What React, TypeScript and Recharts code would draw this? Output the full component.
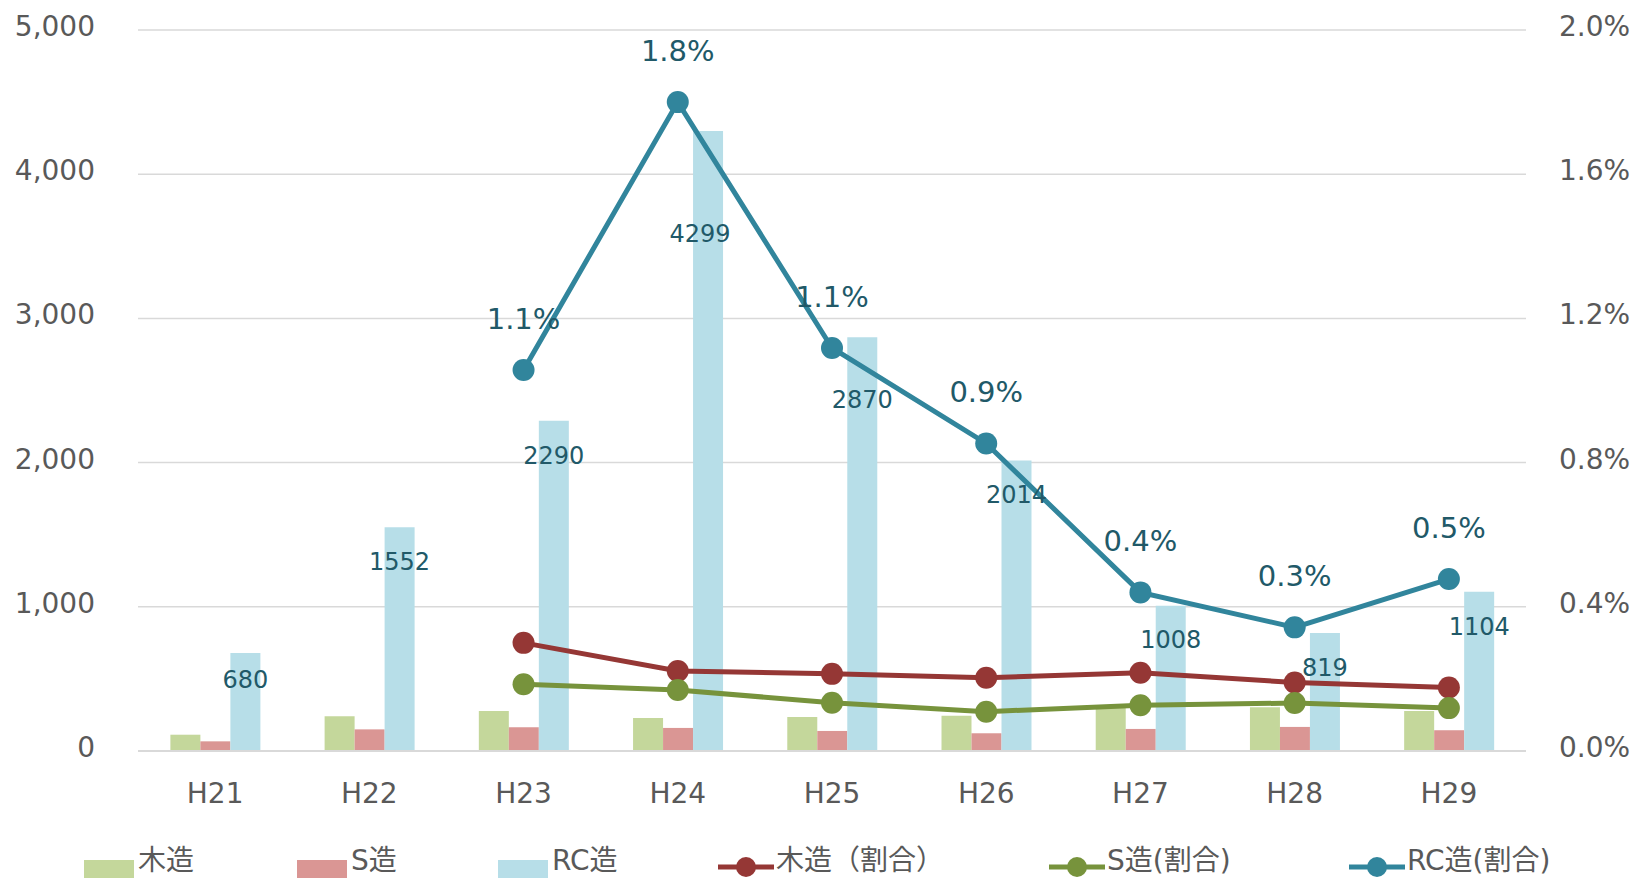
import React from "react";
import {
  ComposedChart,
  Bar,
  Line,
  XAxis,
  YAxis,
  CartesianGrid,
  Legend,
  LabelList,
} from "recharts";

const years = ["H21", "H22", "H23", "H24", "H25", "H26", "H27", "H28", "H29"];
const woodCount = [113, 241, 278, 229, 236, 245, 298, 303, 278];
const steelCount = [67, 150, 165, 160, 139, 123, 153, 167, 144];
const rcCount = [680, 1552, 2290, 4299, 2870, 2014, 1008, 819, 1104];
// ratios in percent
const woodRate = [null, null, 0.3, 0.222, 0.214, 0.203, 0.217, 0.19, 0.176];
const steelRate = [null, null, 0.185, 0.169, 0.134, 0.109, 0.127, 0.133, 0.119];
const rcRate = [null, null, 1.057, 1.8, 1.118, 0.853, 0.44, 0.343, 0.477];
const leftTicks = [0, 1000, 2000, 3000, 4000, 5000];
const rightTicks = [0, 0.4, 0.8, 1.2, 1.6, 2.0];

const data = years.map((year, i) => ({
  year,
  wood: woodCount[i],
  steel: steelCount[i],
  rc: rcCount[i],
  woodRate: woodRate[i],
  steelRate: steelRate[i],
  rcRate: rcRate[i],
}));

const FONT = "'DejaVu Sans', 'Noto Sans CJK JP', sans-serif";
const AXIS_GREY = "#595959";
const LABEL_TEAL = "#215968";

const C_WOOD = "#C4D79B";
const C_STEEL = "#DA9694";
const C_RC = "#B7DEE8";
const C_WOOD_LINE = "#953735";
const C_STEEL_LINE = "#77933C";
const C_RC_LINE = "#31859C";

// label placement inside the RC bars (px below the bar top), as in the original
const rcLabelDrop = [27, 35, 35, 103, 63, 34, 34, 35, 35];

const fmtThousands = (v: number) =>
  String(v).replace(/\B(?=(\d{3})+(?!\d))/g, ",");
const fmtPct = (v: any) => (v == null ? "" : Number(v).toFixed(1) + "%");

const RcLabel = (props: any) => {
  const { x, y, width, value, index } = props;
  if (value == null) return null;
  return (
    <text
      x={x + width / 2 + (index === 3 ? -8 : 0)}
      y={y + rcLabelDrop[index]}
      textAnchor="middle"
      dominantBaseline="central"
      fill={LABEL_TEAL}
      fontSize={24}
      fontFamily={FONT}
    >
      {value}
    </text>
  );
};

const legendItems = [
  { name: "木造", color: C_WOOD, kind: "bar" },
  { name: "S造", color: C_STEEL, kind: "bar" },
  { name: "RC造", color: C_RC, kind: "bar" },
  { name: "木造（割合）", color: C_WOOD_LINE, kind: "line" },
  { name: "S造(割合)", color: C_STEEL_LINE, kind: "line" },
  { name: "RC造(割合)", color: C_RC_LINE, kind: "line" },
];
const legendLeft = [84, 297, 498, 718, 1049, 1349];

const LegendContent = () => (
  <div style={{ position: "relative", width: 1649, height: 55 }}>
    {legendItems.map((item, i) => (
      <div
        key={item.name}
        style={{
          position: "absolute",
          left: legendLeft[i],
          top: 18,
          display: "flex",
          alignItems: "center",
          height: 34,
          fontFamily: FONT,
          fontSize: 28,
          lineHeight: "34px",
          color: AXIS_GREY,
          whiteSpace: "nowrap",
        }}
      >
        {item.kind === "bar" ? (
          <div
            style={{
              width: 50,
              height: 18,
              background: item.color,
              marginRight: 4,
              marginTop: 16,
            }}
          />
        ) : (
          <svg width={56} height={24} style={{ marginRight: 2, marginTop: 12 }}>
            <line x1={0} y1={12} x2={56} y2={12} stroke={item.color} strokeWidth={5} />
            <circle cx={28} cy={12} r={10} fill={item.color} />
          </svg>
        )}
        <span>{item.name}</span>
      </div>
    ))}
  </div>
);

export default function App() {
  return (
    <div
      style={{
        position: "absolute",
        left: 0,
        top: 0,
        width: 1649,
        height: 881,
        background: "#fff",
        overflow: "hidden",
      }}
    >
      <ComposedChart
        width={1649}
        height={881}
        data={data}
        margin={{ top: 30, right: 0, bottom: 0, left: 0 }}
        barCategoryGap="21%"
        barGap={0}
        style={{ fontFamily: FONT }}
      >
        <CartesianGrid
          yAxisId="left"
          vertical={false}
          stroke="#D9D9D9"
          strokeWidth={1.5}
        />
        <XAxis
          dataKey="year"
          height={75}
          tickLine={false}
          tickSize={0}
          tickMargin={32}
          axisLine={{ stroke: "#D9D9D9", strokeWidth: 2 }}
          tick={{ fill: AXIS_GREY, fontSize: 28, fontFamily: FONT }}
        />
        <YAxis
          yAxisId="left"
          width={138}
          domain={[0, 5000]}
          ticks={leftTicks}
          tickFormatter={fmtThousands}
          axisLine={false}
          tickLine={false}
          tickSize={0}
          tickMargin={43}
          tick={{ fill: AXIS_GREY, fontSize: 28, fontFamily: FONT, dy: -4 }}
        />
        <YAxis
          yAxisId="right"
          orientation="right"
          width={123}
          domain={[0, 2]}
          ticks={rightTicks}
          tickFormatter={(v: number) => v.toFixed(1) + "%"}
          axisLine={false}
          tickLine={false}
          tickSize={0}
          tickMargin={33}
          tick={{ fill: AXIS_GREY, fontSize: 28, fontFamily: FONT, dy: -4 }}
        />
        <Legend
          verticalAlign="bottom"
          height={55}
          content={LegendContent}
          wrapperStyle={{ left: 0, width: 1649 }}
        />
        <Bar yAxisId="left" dataKey="wood" name="木造" fill={C_WOOD} isAnimationActive={false} />
        <Bar yAxisId="left" dataKey="steel" name="S造" fill={C_STEEL} isAnimationActive={false} />
        <Bar yAxisId="left" dataKey="rc" name="RC造" fill={C_RC} isAnimationActive={false}>
          <LabelList dataKey="rc" content={RcLabel} />
        </Bar>
        <Line
          yAxisId="right"
          dataKey="woodRate"
          name="木造（割合）"
          stroke={C_WOOD_LINE}
          strokeWidth={5}
          dot={{ r: 11, fill: C_WOOD_LINE, stroke: C_WOOD_LINE, strokeWidth: 0 }}
          activeDot={false}
          isAnimationActive={false}
        />
        <Line
          yAxisId="right"
          dataKey="steelRate"
          name="S造(割合)"
          stroke={C_STEEL_LINE}
          strokeWidth={5}
          dot={{ r: 11, fill: C_STEEL_LINE, stroke: C_STEEL_LINE, strokeWidth: 0 }}
          activeDot={false}
          isAnimationActive={false}
        />
        <Line
          yAxisId="right"
          dataKey="rcRate"
          name="RC造(割合)"
          stroke={C_RC_LINE}
          strokeWidth={5}
          dot={{ r: 11, fill: C_RC_LINE, stroke: C_RC_LINE, strokeWidth: 0 }}
          activeDot={false}
          isAnimationActive={false}
        >
          <LabelList
            dataKey="rcRate"
            position="top"
            offset={41}
            formatter={fmtPct}
            fill={LABEL_TEAL}
            fontSize={29}
            fontFamily={FONT}
          />
        </Line>
      </ComposedChart>
    </div>
  );
}
